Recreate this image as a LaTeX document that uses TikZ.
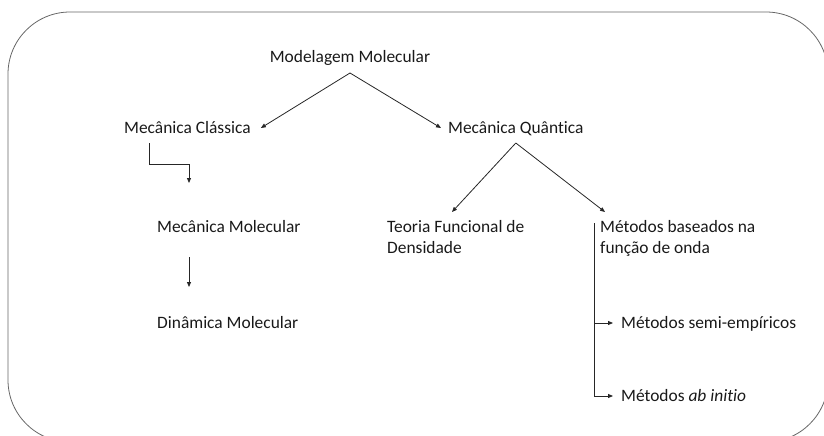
\documentclass[tikz,border=0pt]{standalone}
\usepackage{fontspec}
\setmainfont{Carlito}[Ligatures=NoCommon]
\usetikzlibrary{arrows.meta,calc}
\begin{document}
\begin{tikzpicture}[x=1pt,y=-1pt,
  lbl/.style={inner sep=0pt,anchor=base west,font=\fontsize{17.4}{21}\selectfont,text=black!90},
  conn/.style={draw=black!85,line width=0.8pt},
  arr/.style={conn,-{Triangle[length=5pt,width=4pt]}},
  frame/.style={draw=black!60,line width=0.8pt,rounded corners=62pt}]
\useasboundingbox (0,0) rectangle (824,436);
\draw[frame] (8,12) rectangle (828,442);
\node[lbl,anchor=base] (mm) at (350,63) {Modelagem Molecular};
\node[lbl] (mc) at (124,133) {Mecânica Clássica};
\node[lbl] (mq) at (448,133) {Mecânica Quântica};
\node[lbl] (mmol) at (157,232) {Mecânica Molecular};
\node[lbl] (dm) at (157,328) {Dinâmica Molecular};
\node[lbl,align=left] (tfd) at (387,253) {Teoria Funcional de\\Densidade};
\node[lbl,align=left] (mb) at (600,253) {Métodos baseados na\\função de onda};
\node[lbl] (semi) at (621,328) {Métodos semi-empíricos};
\node[lbl] (abi) at (621,401) {Métodos \textit{ab initio}};
% top split
\draw[arr] ($(mm.base)+(0,10)$) -- ($(mc.base east)+(10,-5)$);
\draw[arr] ($(mm.base)+(0,10)$) -- ($(mq.base west)+(-7,-5)$);
% quantum split
\draw[arr] ($(mq.base)+(0,10)$) -- ($(tfd.base west)+(65,-41)$);
\draw[arr] ($(mq.base)+(0,10)$) -- ($(mb.base west)+(5,-41)$);
% classical chain
\draw[arr] ($(mc.base west)+(25,10)$) -- ++(0,21) -| ($(mmol.base west)+(32,-49)$);
\draw[arr] ($(mmol.base west)+(32,25)$) -- ($(dm.base west)+(32,-41)$);
% wave-function methods
\coordinate (vtop) at ($(mb.base west)+(-6,-30)$);
\draw[arr] (vtop) |- ($(abi.base west)+(-8,-5)$);
\draw[arr] (vtop |- {$(semi.base west)+(0,-5)$}) -- ($(semi.base west)+(-8,-5)$);
\end{tikzpicture}
\end{document}
